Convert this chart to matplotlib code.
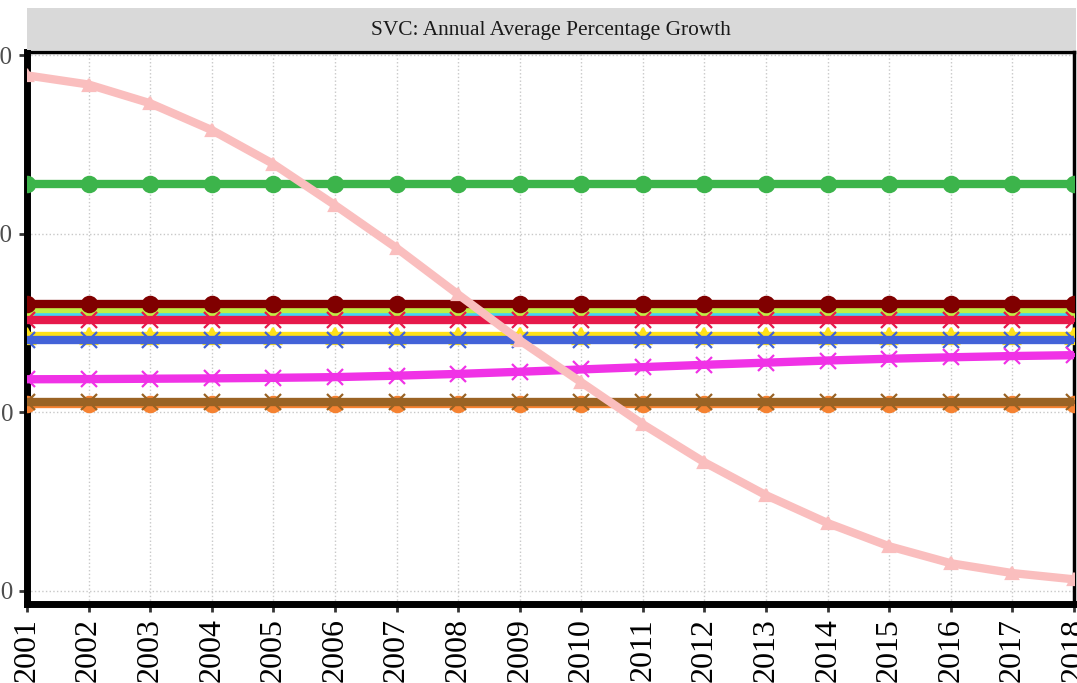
import matplotlib
matplotlib.use("Agg")
import matplotlib.pyplot as plt
from matplotlib.patches import Rectangle

years = list(range(2001, 2019))

# flat series (value per year)
green = [12.8] * 18
cyan = [5.6] * 18
lime = [5.8] * 18
maroon = [6.05] * 18
crimson = [5.15] * 18
gold = [4.3] * 18
blue = [4.03] * 18
orange = [0.45] * 18
brown = [0.6] * 18
magenta = [1.85, 1.86, 1.88, 1.9, 1.93, 1.97, 2.05, 2.15, 2.27, 2.4,
           2.53, 2.66, 2.78, 2.9, 3.0, 3.08, 3.15, 3.2]
pink = [18.86, 18.35, 17.3, 15.8, 13.9, 11.6, 9.2, 6.6, 4.03, 1.68,
        -0.67, -2.8, -4.64, -6.2, -7.5, -8.45, -9.0, -9.35]

yticks = [-10, 0, 10, 20]
title = "SVC: Annual Average Percentage Growth"

series = [
    (green, "#3cb44b", "o"),
    (cyan, "#42d4f4", "^"),
    (lime, "#bfef45", "o"),
    (maroon, "#800000", "o"),
    (crimson, "#e6194b", "x"),
    (gold, "#ffe119", "^"),
    (blue, "#4363d8", "x"),
    (magenta, "#f032e6", "x"),
    (orange, "#f58231", "o"),
    (brown, "#9a6324", "x"),
    (pink, "#fabebe", "^"),
]

plt.rcParams['font.family'] = ['Liberation Serif', 'DejaVu Serif']

fig = plt.figure(figsize=(10.77, 6.83), dpi=100)
ax = fig.add_axes([27 / 1077, 79 / 683, 1047 / 1077, 552 / 683])

for vals, col, mk in series:
    ms = 9 if mk == "^" and col == "#fabebe" else 11
    ax.plot(years, vals, color=col, lw=6, marker=mk, ms=ms, mew=1.6,
            solid_capstyle='butt', zorder=3)

ax.set_xlim(2001, 2018)
ax.set_ylim(-10.73, 20.17)
ax.set_xticks(years)
ax.set_xticklabels([str(y) for y in years], rotation=90, fontsize=23,
                   color='black')
ax.set_yticks(yticks)
ax.set_yticklabels([str(t) for t in yticks], fontsize=18, color='#4d4d4d')
ax.tick_params(axis='both', length=6, width=2, color='#333333', pad=4)
ax.grid(True, color='#c8c8c8', linestyle=':', linewidth=1)
ax.set_axisbelow(True)

ax.spines['left'].set_linewidth(5)
ax.spines['bottom'].set_linewidth(5)
ax.spines['top'].set_linewidth(2.5)
ax.spines['right'].set_linewidth(2.5)

# facet strip
fig.patches.append(Rectangle((27 / 1077, (683 - 50) / 683), 1049 / 1077, 42 / 683,
                             transform=fig.transFigure, facecolor='#d9d9d9',
                             edgecolor='none'))
fig.text(551 / 1077, (683 - 31) / 683, title, ha='center', va='center',
         fontsize=15.4, color='#1a1a1a')

fig.savefig("out.png", dpi=100)
